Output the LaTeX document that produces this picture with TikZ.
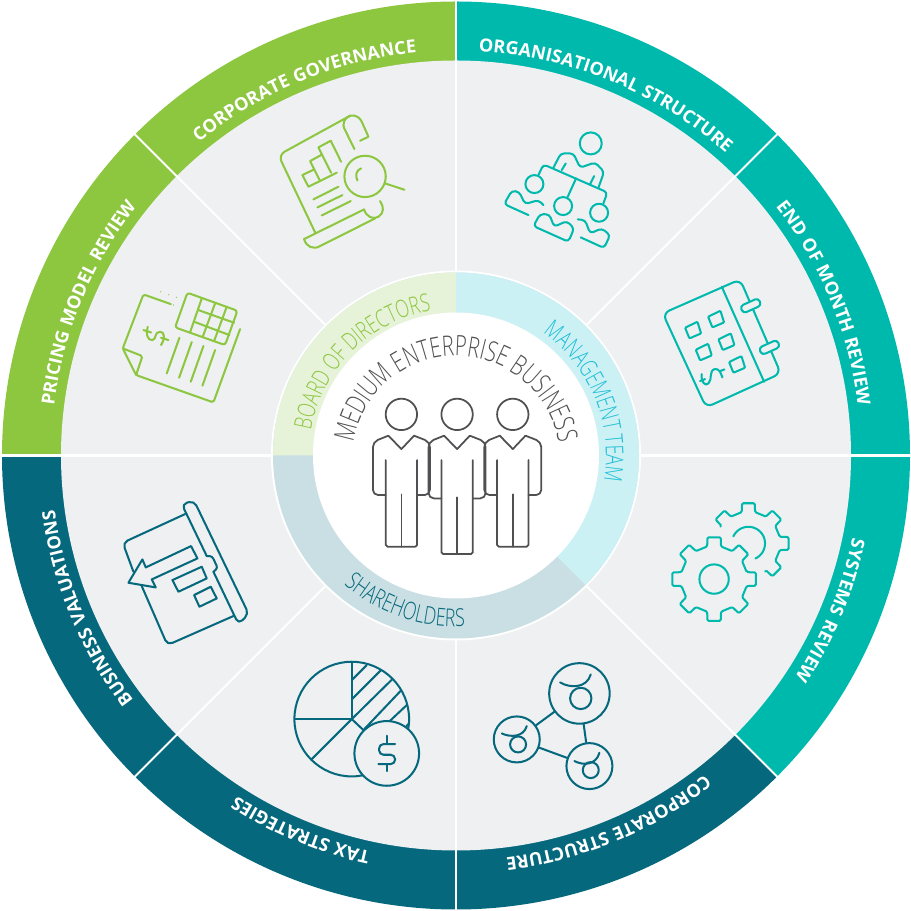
\documentclass[tikz,border=0pt]{standalone}
\usepackage{fontspec}
\usepackage{xcolor}
\usetikzlibrary{decorations.text}
\setmainfont{Open Sans}
\newfontfamily\ringfont[LetterSpace=5]{Open Sans Bold}
\newfontfamily\thinfont[FakeStretch=.72]{Open Sans Light}
\definecolor{xgreen}{RGB}{141,198,63}
\definecolor{xteal}{RGB}{0,185,173}
\definecolor{xdeep}{RGB}{5,104,124}
\definecolor{xpanel}{RGB}{238,240,242}
\definecolor{xpale}{RGB}{230,243,216}
\definecolor{xice}{RGB}{204,241,245}
\definecolor{xmist}{RGB}{202,223,227}
\definecolor{xsky}{RGB}{30,190,214}
\definecolor{xslate}{RGB}{80,80,82}
% outer labels all run clockwise
\newcommand\ringtext[2]{\path[decorate,decoration={text along path,text align=center,
  text={|\ringfont\fontsize{10.3}{12}\selectfont\color{white}|#2}}]
  (#1+24:405) arc[start angle=#1+24,delta angle=-48,radius=405];}
\newcommand\bandtext[5]{\path[decorate,decoration={text along path,text align=center,
  text={|\thinfont\fontsize{14}{16}\selectfont\color{#4}|#5}}]
  (#1:#3) arc[start angle=#1,end angle=#2,radius=#3];}

\begin{document}
\begin{tikzpicture}[
  x=.02cm, y=.02cm,
  wheelspoke/.style={white, line width=1.15pt},
  outline/.style={line width=1.15pt, line cap=round, line join=round},
  icon/.style 2 args={shift={(#1*.02cm-9.12cm,9.11cm-#2*.02cm)}, x=.02cm/3, y=-.02cm/3, outline},
  hub/.style={circle, draw=xdeep, outline, inner sep=0pt}
]
  \path[use as bounding box] (-456,-455.5) rectangle (455,455.5);

  % outer wheel
  \foreach \s/\c in {90/xgreen,135/xgreen,45/xteal,0/xteal,-45/xteal,-90/xdeep,-135/xdeep,180/xdeep}
    \fill[\c] (0,0) -- (\s:454) arc[start angle=\s,delta angle=45,radius=454] -- cycle;
  \fill[xpanel] (0,0) circle (395);
  \foreach \s in {0,45,...,315}
    \draw[wheelspoke] (\s:150) -- (\s:455);

  \ringtext{112.5}{CORPORATE GOVERNANCE}
  \ringtext{157.5}{PRICING MODEL REVIEW}
  \ringtext{67.5}{ORGANISATIONAL STRUCTURE}
  \ringtext{22.5}{END OF MONTH REVIEW}
  \ringtext{-22.5}{SYSTEMS REVIEW}
  \ringtext{-67.5}{CORPORATE STRUCTURE}
  \ringtext{-112.5}{TAX STRATEGIES}
  \ringtext{-157.5}{BUSINESS VALUATIONS}

  % inner band
  \fill[white] (0,0) circle (185);
  \fill[xmist] (0,0) circle (183);
  \fill[xpale] (0,0) -- (90:183) arc[start angle=90,delta angle=90,radius=183] -- cycle;
  \fill[xice] (0,0) -- (-45:183) arc[start angle=-45,delta angle=135,radius=183] -- cycle;
  \fill[white] (0,0) circle (143);
  \bandtext{180}{90}{147}{xgreen}{BOARD OF DIRECTORS}
  \bandtext{70}{-25}{150}{xsky}{MANAGEMENT TEAM}
  \bandtext{-149}{-69}{171}{xdeep}{SHAREHOLDERS}
  \path[decorate,decoration={text along path,text align=center,
    text={|\thinfont\fontsize{16}{18}\selectfont\color{xslate}|MEDIUM ENTERPRISE BUSINESS}}]
    (-104,-4.5) arc[start angle=180,end angle=0,radius=104];

  % people
  \foreach \hx/\arm/\low/\legs in {401.3/80.7/80/132.3,512.7/80.7/80/132.3,457/84/83/139.7}{
    \begin{scope}[shift={(\hx*.02cm-9.12cm,9.11cm-414.3*.02cm)}, y=-.02cm, xslate, outline, line width=1pt]
      \draw (0,0) circle (15.7);
      \draw[rounded corners=3pt] (-15.7,\arm) -- (-28.5,\arm) -- (-28.5,27.5) -- (-13,21.3);
      \draw[rounded corners=3pt] (15.7,\arm) -- (28.5,\arm) -- (28.5,27.5) -- (12.7,21.3);
      \draw (-13,21.3) -- (0,34.7) -- (12.7,21.3);
      \draw[rounded corners=1pt] (-15.7,45.7) -- (-15.7,\legs) -- (15.7,\legs) -- (15.7,45.7);
      \draw (0,\low) -- (0,\legs);
    \end{scope}
  }

  % corporate governance
  \begin{scope}[icon={260}{100}, xgreen]
    \draw[rounded corners=4pt] (165,397) -- (55,165) -- (270,47);
    \draw (270,47) .. controls (290,43) and (300,55) .. (305,65) -- (325,110) -- (300,122);
    \draw (283,147) -- (255,90) .. controls (243,70) and (255,52) .. (270,47);
    \draw (132,417) -- (312,328) .. controls (318,350) and (340,360) .. (355,350) .. controls (372,340) and (372,320) .. (360,303);
    \draw (132,417) .. controls (138,440) and (160,450) .. (180,438) -- (345,355);
    \draw (127,225) -- (145,260) -- (230,218);
    \draw (127,225) -- (162,208);
    \draw (180,243) -- (150,183) -- (183,165);
    \draw (213,218) -- (175,142) -- (212,122) -- (243,185);
    \draw (160,298) -- (235,260);
    \draw (172,322) -- (247,285);
    \draw (185,346) -- (272,303);
    \draw (315,229) circle (62);
    \draw (375,250) -- (433,269);
    \draw (303,205) .. controls (288,210) and (285,228) .. (292,241);
  \end{scope}

  % organisational structure
  \begin{scope}[icon={490}{120}, xteal]
    \draw (302,70) circle (33);
    \draw[rounded corners=2pt] (190,143) -- (212,100) -- (250,100) -- (270,143) -- (315,127) -- (342,155) -- (325,203);
    \draw[rounded corners=2pt] (145,165) -- (160,133) -- (352,217) -- (340,250);
    \draw (215,150) -- (227,130);
    \draw (300,192) -- (312,168);
    \draw (258,175) -- (232,232);
    \draw (133,192) circle (27);
    \draw (219,258) circle (27);
    \draw (327,278) circle (27);
    \draw[rounded corners=2pt] (115,285) -- (42,252) -- (65,212) -- (87,215) -- (105,252) -- (145,240) -- (160,255);
    \draw[rounded corners=2pt] (192,320) -- (230,303) -- (252,325) -- (235,365) -- (130,318) -- (150,282) -- (178,283) -- cycle;
    \draw[rounded corners=2pt] (263,298) -- (285,300) -- (300,340) -- (335,325) -- (360,345) -- (342,384) -- (272,352);
  \end{scope}

  % end of month review
  \begin{scope}[icon={650}{270}, xteal]
    \draw[rounded corners=4pt] (38,130) -- (270,28) -- (392,310) -- (168,412) -- cycle;
    \draw (215,50) -- (342,335);
    \draw[rounded corners=2pt, fill=xpanel] (269.8,108.4) -- (324.4,83.8) -- (334.2,105.6) -- (279.6,130.2) -- cycle;
    \draw[rounded corners=2pt, fill=xpanel] (325.8,233.4) -- (380.4,208.8) -- (390.2,230.6) -- (335.6,255.2) -- cycle;
    \foreach \sx/\sy in {128/180,197/147,160/246,228/215,260/283}
      \draw[rounded corners=.5pt] (\sx-23,\sy-7) -- (\sx+14,\sy-25) -- (\sx+25,\sy+10) -- (\sx-10,\sy+25) -- cycle;
    \draw (155,312) .. controls (152,335) and (165,350) .. (175,340) .. controls (188,328) and (175,300) .. (195,297) .. controls (208,295) and (212,310) .. (217,322);
    \draw (150,333) -- (165,327);
    \draw (210,303) -- (223,298);
  \end{scope}

  % systems review
  \begin{scope}[icon={660}{490}, xteal]
    \begin{scope}[shift={(162,267)}, rounded corners=.7pt]
      \draw (0,0) circle (44);
      \draw (-12:100) \foreach \a in {0,45,...,315} { -- (\a-12:100) -- (\a-9:127) -- (\a+9:127) -- (\a+12:100)} -- cycle;
    \end{scope}
    \begin{scope}[shift={(265,160)}, rounded corners=.7pt]
      \draw plot[domain=205:425,samples=30] (\x:50);
      \draw (211:98) \foreach \a in {225,270,...,405} { -- (\a-12:96) -- (\a-9:122) -- (\a+9:122) -- (\a+12:96)} -- (59:98);
    \end{scope}
  \end{scope}

  % corporate structure
  \begin{scope}[icon={480}{650}, xdeep]
    \node[hub, minimum size=1.21cm] (top) at (298,130) {};
    \node[hub, minimum size=.92cm] (left) at (110,268) {};
    \node[hub, minimum size=.92cm] (right) at (328,348) {};
    \draw (top) -- (left);
    \draw (top) -- (right);
    \draw (left) -- (right);
    \draw (240,97) .. controls (270,115) and (320,115) .. (332,73);
    \draw (302,145) circle (32);
    \draw (65,250) .. controls (90,262) and (130,262) .. (140,228);
    \draw (114,283) circle (24);
    \draw (283,333) .. controls (310,347) and (348,345) .. (358,308);
    \draw (332,360) circle (24);
  \end{scope}

  % tax strategies
  \begin{scope}[icon={285}{650}, xdeep]
    \draw (200,207) circle (172);
    \draw (200,35) -- (200,207) -- (30,207);
    \draw (80,327) -- (200,207) -- (235,240);
    \draw (200,90) -- (245,45);
    \draw (200,148) -- (288,60);
    \draw (200,207) -- (322,87);
    \draw (235,240) -- (347,122);
    \draw (315,212) -- (365,165);
    \draw (358,235) -- (372,220);
    \draw[fill=xpanel] (305,310) circle (97);
    \draw (305,257) -- (305,282);
    \draw (305,342) -- (305,363);
    \draw[rounded corners=2.5pt] (330,282) -- (282,282) -- (282,314) -- (330,314) -- (330,342) -- (280,342);
  \end{scope}

  % business valuations
  \begin{scope}[icon={110}{490}, xdeep]
    \draw[rounded corners=3pt] (225,72) -- (38,158) -- (70,245);
    \draw[rounded corners=3pt] (95,288) -- (172,465) -- (372,377);
    \draw[rounded corners=3pt] (290,198) -- (215,42) -- (252,32) -- (416,372) -- (385,402) -- (310,245);
    \draw[rounded corners=1.5pt] (290,198) -- (306,198) -- (323,234) -- (310,245);
    \draw (55,278) -- (97,208) -- (107,232) -- (243,168) -- (262,205) -- (125,268) -- (137,292) -- cycle;
    \draw (187,270) -- (275,230) -- (290,265) -- (205,305) -- cycle;
    \draw (252,315) -- (302,290) -- (320,325) -- (268,350) -- cycle;
  \end{scope}

  % pricing model review
  \begin{scope}[icon={110}{280}, xgreen]
    \draw[rounded corners=1pt] (182,72) -- (100,43) -- (38,205) -- (78,285) -- (310,367) -- (390,147);
    \draw[rounded corners=1pt] (38,205) -- (97,228) -- (78,285);
    \foreach \dx/\dy in {152/35,176/44,199/52,190/75}
      \fill (\dx,\dy) circle (2);
    \draw[rounded corners=1.5pt] (232,38) -- (382,92) -- (345,195) -- (195,142) -- cycle;
    \draw (275,55) -- (240,157);
    \draw (315,70) -- (278,170);
    \draw (350,80) -- (312,183);
    \draw (265,90) -- (372,128);
    \draw (252,125) -- (358,165);
    \draw (208,173) -- (170,280);
    \draw (245,186) -- (207,293);
    \draw (280,198) -- (242,305);
    \draw (315,210) -- (277,317);
    \draw (113,140) .. controls (106,160) and (112,182) .. (127,180) .. controls (140,178) and (132,155) .. (150,155) .. controls (165,155) and (165,178) .. (153,195);
    \draw (100,150) -- (123,157);
    \draw (153,173) -- (175,180);
  \end{scope}
\end{tikzpicture}
\end{document}
